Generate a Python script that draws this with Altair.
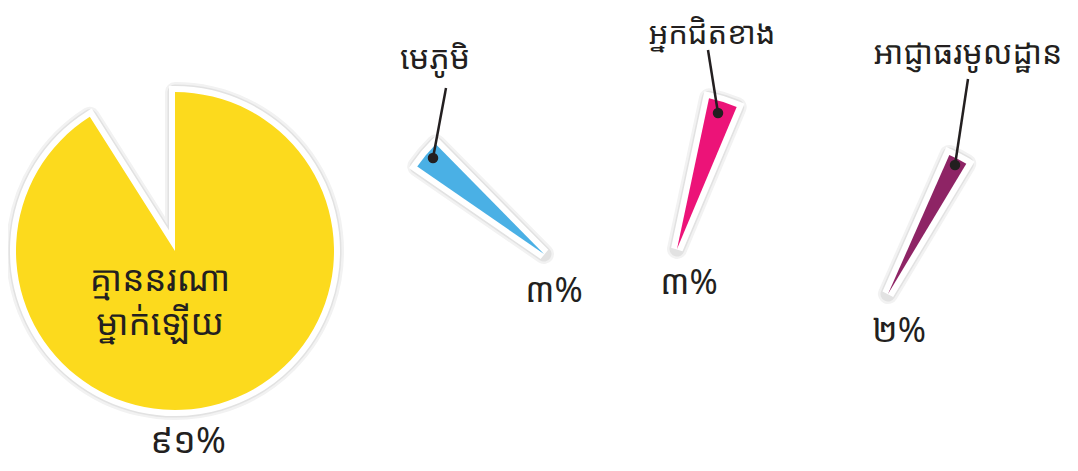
import math
import altair as alt
import pandas as pd

# ---- data ----
categories = ["គ្មាននរណា\nម្នាក់ឡើយ", "មេភូមិ", "អ្នកជិតខាង", "អាជ្ញាធរមូលដ្ឋាន"]
values = [91, 3, 3, 2]
pct_labels = ["៩១%", "៣%", "៣%", "២%"]
colors = ["#FCDA1D", "#4AB0E5", "#EC1378", "#8E2465"]

df = pd.DataFrame({
    "idx": list(range(len(categories))),
    "category": categories,
    "value": values,
    "pct": pct_labels,
})

FONT = "Noto Sans Khmer, Khmer OS, Khmer OS System, Noto Sans, DejaVu Sans, sans-serif"

# layout (pixel placement of each exploded slice, rotation in degrees)
layout = [
    dict(cx=167, cy=243, r=159, rot=0.0, lsize=35, psize=36,
         pct=(180, 434), label=(152, 272), leader=None),
    dict(cx=536, cy=246, r=154, rot=304.6, lsize=32, psize=34,
         pct=(546, 284), label=(427, 51), leader=((438, 80), (425, 150))),
    dict(cx=669, cy=241, r=154, rot=12.0, lsize=31, psize=34,
         pct=(681, 276), label=(704, 27), leader=((700, 42), (710, 105))),
    dict(cx=880, cy=286, r=152, rot=23.8, lsize=32, psize=34,
         pct=(891, 324), label=(960, 46), leader=((960, 71), (947, 157))),
]

base = alt.Chart(df)
layers = []
for i, L in enumerate(layout):
    sl = base.transform_filter(alt.datum.idx == i)
    start = math.radians(L["rot"])
    theta = alt.Theta("value:Q", stack=True,
                      scale=alt.Scale(domain=[0, 100], range=[start, start + 2 * math.pi]))
    pos = dict(x=alt.value(L["cx"]), y=alt.value(L["cy"]))
    layers.append(sl.mark_arc(outerRadius=L["r"], fill="#ffffff", stroke="#f2f2f2",
                              strokeWidth=20, strokeJoin="round").encode(theta=theta, **pos))
    layers.append(sl.mark_arc(outerRadius=L["r"], fill="#ffffff", stroke="#e2e2e2",
                              strokeWidth=15, strokeJoin="round").encode(theta=theta, **pos))
    layers.append(sl.mark_arc(outerRadius=L["r"], fill="#ffffff", stroke="#ffffff",
                              strokeWidth=12).encode(theta=theta, **pos))
    layers.append(sl.mark_arc(outerRadius=L["r"], fill=colors[i], strokeWidth=0)
                  .encode(theta=theta, **pos))

for i, L in enumerate(layout):
    sl = base.transform_filter(alt.datum.idx == i)
    if L["leader"]:
        (x1, y1), (x2, y2) = L["leader"]
        layers.append(sl.mark_rule(color="#231f20", strokeWidth=2.5).encode(
            x=alt.value(x1), y=alt.value(y1), x2=alt.value(x2), y2=alt.value(y2)))
        layers.append(sl.mark_circle(color="#231f20", opacity=1, size=110).encode(
            x=alt.value(x2), y=alt.value(y2)))
    layers.append(sl.mark_text(font=FONT, fontSize=L["lsize"], color="#231f20", lineBreak="\n",
                               lineHeight=44, align="center", baseline="middle").encode(
        text="category:N", x=alt.value(L["label"][0]), y=alt.value(L["label"][1])))
    layers.append(sl.mark_text(font=FONT, fontSize=L["psize"], color="#231f20",
                               align="center", baseline="middle").encode(
        text="pct:N", x=alt.value(L["pct"][0]), y=alt.value(L["pct"][1])))

chart = alt.layer(*layers).resolve_scale(theta="independent").properties(
    width=1062, height=455, padding=0, autosize="none"
).configure_view(stroke=None)

chart.save("out.html", embed_options={"renderer": "svg", "actions": False})
